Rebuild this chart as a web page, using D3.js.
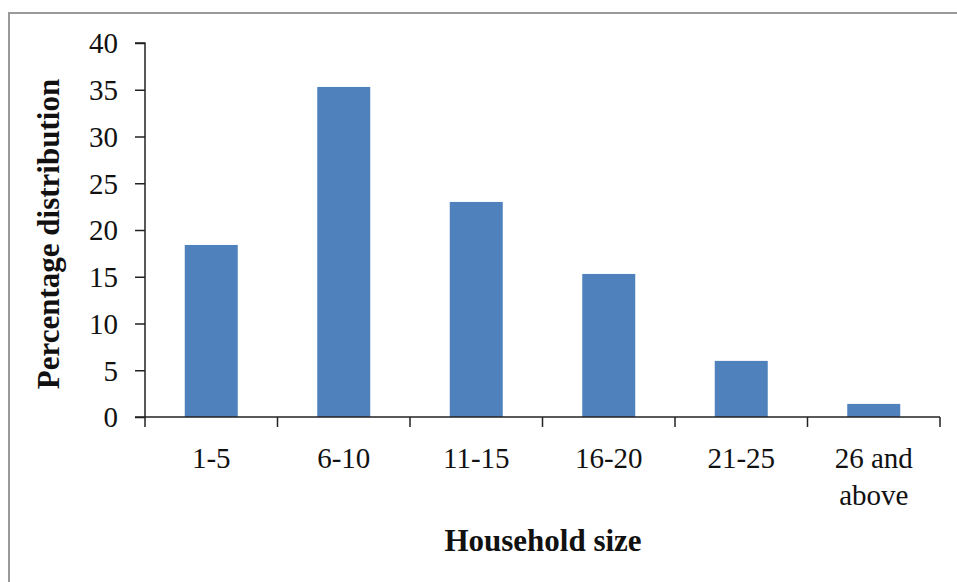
<!DOCTYPE html>
<html>
<head>
<meta charset="utf-8">
<script src="https://cdn.jsdelivr.net/npm/d3@7"></script>
<style>
  html, body { margin: 0; padding: 0; background: #fff; }
  svg { display: block; }
  text { font-family: "Liberation Serif", "Times New Roman", serif; fill: #111; }
</style>
</head>
<body>
<svg id="chart" width="957" height="582"></svg>
<script>
// Household size groups and their share of households (%)
const categories = ["1-5", "6-10", "11-15", "16-20", "21-25", "26 and\nabove"];
const percentages = [18.4, 35.3, 23.0, 15.3, 6.0, 1.4];
const yTicks = [0, 5, 10, 15, 20, 25, 30, 35, 40];
const xTitle = "Household size";
const yTitle = "Percentage distribution";

const svg = d3.select("#chart");
const W = 957, H = 582;
const plot = { left: 145, right: 940, top: 43, bottom: 417 };

// outer frame (runs off the right and bottom edges)
svg.append("rect")
  .attr("x", 9).attr("y", 13)
  .attr("width", W + 20).attr("height", H + 20)
  .attr("fill", "#fff")
  .attr("stroke", "#9a9a9a").attr("stroke-width", 2);

const x = d3.scaleBand()
  .domain(categories)
  .range([plot.left, plot.right])
  .paddingInner(0.6).paddingOuter(0.3);

const y = d3.scaleLinear()
  .domain([0, 40])
  .range([plot.bottom, plot.top]);

// bars
svg.append("g").selectAll("rect")
  .data(categories)
  .join("rect")
  .attr("x", d => x(d))
  .attr("width", x.bandwidth())
  .attr("y", (d, i) => y(percentages[i]))
  .attr("height", (d, i) => y(0) - y(percentages[i]))
  .attr("fill", "#4F81BD");

// y axis
const yAxis = svg.append("g")
  .attr("transform", `translate(${plot.left},0)`)
  .call(d3.axisLeft(y).tickValues(yTicks).tickSize(10).tickPadding(17).tickFormat(d3.format("d")));
yAxis.selectAll("text").style("font-size", "29px").attr("dy", "0.34em");
yAxis.selectAll("path, line").attr("stroke", "#222").attr("stroke-width", 1.5);
yAxis.select(".domain").attr("d", `M-10,${plot.top}H0V${plot.bottom}`);

// x axis with ticks at category boundaries
const boundaries = d3.range(categories.length + 1).map(i => plot.left + i * (plot.right - plot.left) / categories.length);
const xAxis = svg.append("g");
xAxis.append("line")
  .attr("x1", plot.left - 10).attr("x2", plot.right)
  .attr("y1", plot.bottom).attr("y2", plot.bottom)
  .attr("stroke", "#222").attr("stroke-width", 1.5);
xAxis.selectAll("line.tick")
  .data(boundaries)
  .join("line")
  .attr("class", "tick")
  .attr("x1", d => d).attr("x2", d => d)
  .attr("y1", plot.bottom).attr("y2", plot.bottom + 10)
  .attr("stroke", "#222").attr("stroke-width", 1.5);

xAxis.selectAll("text.cat")
  .data(categories)
  .join("text")
  .attr("class", "cat")
  .attr("text-anchor", "middle")
  .style("font-size", "29px")
  .attr("transform", d => `translate(${x(d) + x.bandwidth() / 2},468)`)
  .each(function (d) {
    const lines = d.split("\n");
    d3.select(this).selectAll("tspan")
      .data(lines)
      .join("tspan")
      .attr("x", 0)
      .attr("dy", (l, i) => i === 0 ? 0 : 37)
      .text(l => l);
  });

// axis titles
svg.append("text")
  .attr("x", 543).attr("y", 551)
  .attr("text-anchor", "middle")
  .style("font-size", "31px").style("font-weight", "bold")
  .text(xTitle);

svg.append("text")
  .attr("transform", "translate(59,234) rotate(-90)")
  .attr("text-anchor", "middle")
  .style("font-size", "31px").style("font-weight", "bold")
  .text(yTitle);
</script>
</body>
</html>
